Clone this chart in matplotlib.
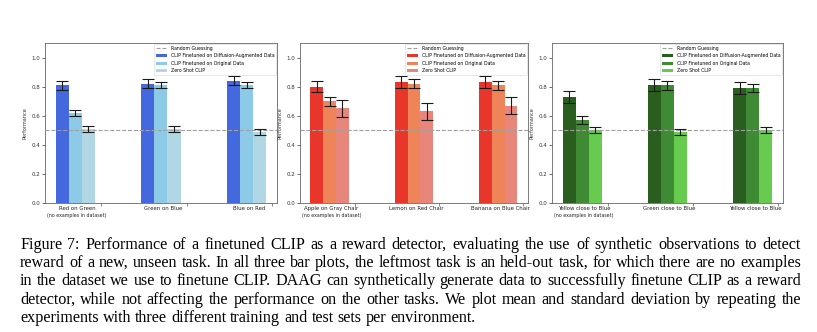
import numpy as np
import matplotlib
matplotlib.use("Agg")
import matplotlib.pyplot as plt
from matplotlib.transforms import blended_transform_factory

# ---------------- data ----------------
series_labels = ["CLIP Finetuned on Diffusion-Augmented Data",
                 "CLIP Finetuned on Original Data",
                 "Zero Shot CLIP"]
guess_label = "Random Guessing"
guess_level = 0.5
held_out_note = "(no examples in dataset)"

tasks_blue = ["Red on Green", "Green on Blue", "Blue on Red"]
blue_diffusion_mean = [0.81, 0.82, 0.84]
blue_diffusion_std = [0.03, 0.03, 0.03]
blue_original_mean = [0.62, 0.81, 0.81]
blue_original_std = [0.02, 0.02, 0.02]
blue_zeroshot_mean = [0.51, 0.51, 0.49]
blue_zeroshot_std = [0.02, 0.02, 0.02]

tasks_red = ["Apple on Gray Chair", "Lemon on Red Chair", "Banana on Blue Chair"]
red_diffusion_mean = [0.80, 0.83, 0.83]
red_diffusion_std = [0.04, 0.04, 0.04]
red_original_mean = [0.70, 0.82, 0.81]
red_original_std = [0.03, 0.03, 0.03]
red_zeroshot_mean = [0.65, 0.63, 0.67]
red_zeroshot_std = [0.06, 0.06, 0.06]

tasks_green = ["Yellow close to Blue", "Green close to Blue", "Yellow close to Blue"]
green_diffusion_mean = [0.73, 0.81, 0.79]
green_diffusion_std = [0.04, 0.04, 0.04]
green_original_mean = [0.57, 0.81, 0.79]
green_original_std = [0.03, 0.03, 0.03]
green_zeroshot_mean = [0.50, 0.49, 0.50]
green_zeroshot_std = [0.02, 0.02, 0.02]

yticks = [0.0, 0.2, 0.4, 0.6, 0.8, 1.0]

caption_lines = [
    "Figure 7: Performance of a finetuned CLIP as a reward detector, evaluating the use of synthetic observations to detect",
    "reward of a new, unseen task. In all three bar plots, the leftmost task is an held-out task, for which there are no examples",
    "in the dataset we use to finetune CLIP. DAAG can synthetically generate data to successfully finetune CLIP as a reward",
    "detector, while not affecting the performance on the other tasks. We plot mean and standard deviation by repeating the",
    "experiments with three different training and test sets per environment.",
]

# ---------------- style ----------------
blue_colors = ["#4468DD", "#8DCAE8", "#B0D7E3"]
red_colors = ["#E8372A", "#EE8458", "#E8867B"]
green_colors = ["#2A5E1F", "#3F8B34", "#66CB4F"]

W, H = 817, 332
fig = plt.figure(figsize=(W / 100, H / 100), dpi=100)

def px_axes(left, right, top, bottom):
    return fig.add_axes([left / W, 1 - bottom / H, (right - left) / W, (bottom - top) / H])

axes_px = [(45, 277), (300, 528), (552, 783)]
top_px, bottom_px = 43, 203

panels = [
    (tasks_blue,
     [blue_diffusion_mean, blue_original_mean, blue_zeroshot_mean],
     [blue_diffusion_std, blue_original_std, blue_zeroshot_std], blue_colors),
    (tasks_red,
     [red_diffusion_mean, red_original_mean, red_zeroshot_mean],
     [red_diffusion_std, red_original_std, red_zeroshot_std], red_colors),
    (tasks_green,
     [green_diffusion_mean, green_original_mean, green_zeroshot_mean],
     [green_diffusion_std, green_original_std, green_zeroshot_std], green_colors),
]

bar_w = 0.152
for (l, r), (tasks, means, stds, colors) in zip(axes_px, panels):
    ax = px_axes(l, r, top_px, bottom_px)
    x = np.arange(len(tasks))
    handles = []
    for k, (m, s, c, lab) in enumerate(zip(means, stds, colors, series_labels)):
        b = ax.bar(x + k * bar_w, m, bar_w, yerr=s, color=c, label=lab,
                   capsize=4.3, zorder=2,
                   error_kw=dict(ecolor="#1a1a1a", elinewidth=0.8, capthick=0.8, zorder=4))
        handles.append(b)
    guess = ax.axhline(guess_level, color="#a0a0a0", ls="--", lw=0.8, zorder=3,
                       label=guess_label)
    ax.set_ylim(0, 1.1)
    ax.set_xlim(-0.2, 2.505)
    ax.set_yticks(yticks)
    ax.set_yticklabels([f"{v:.1f}" for v in yticks])
    ax.tick_params(axis="y", labelsize=4, length=2, width=0.5, pad=1.5, colors="#333333")
    ax.set_xticks(x + 0.45)
    ax.set_xticklabels([])
    ax.tick_params(axis="x", which="major", length=2, width=0.5, color="#555555")
    ax.set_xticks(x + 0.175, labels=tasks, minor=True)
    ax.tick_params(axis="x", which="minor", length=0, labelsize=3.9, pad=2.5,
                   labelcolor="#222222")
    trans = blended_transform_factory(ax.transData, ax.transAxes)
    ax.text(x[0] + 0.175, -0.078, held_out_note, transform=trans, ha="center",
            va="center", fontsize=3.4, color="#222222")
    ax.set_ylabel("Performance", fontsize=3.6, labelpad=3, color="#333333")
    for sp in ax.spines.values():
        sp.set_linewidth(0.6)
        sp.set_color("#666666")
    leg = ax.legend([guess] + handles, [guess_label] + series_labels,
                    loc="upper right", fontsize=3.3, frameon=True,
                    borderaxespad=0.2, handlelength=2.4, labelspacing=0.55)
    leg.get_frame().set_linewidth(0.4)

# ---------------- justified caption ----------------
renderer = fig.canvas.get_renderer()
cap_left, cap_right = 20, 801
baseline0, line_gap = 248.7, 18.3
cap_font = dict(family="Liberation Serif", fontsize=11.6, color="black")
sp = fig.text(0, 0, "a a", **cap_font)
sp2 = fig.text(0, 0, "aa", **cap_font)
space_w = sp.get_window_extent(renderer).width - sp2.get_window_extent(renderer).width
sp.remove(); sp2.remove()
for i, line in enumerate(caption_lines):
    yb = 1 - (baseline0 + i * line_gap) / H
    words = line.split(" ")
    texts = [fig.text(0, yb, w_, va="baseline", ha="left", **cap_font) for w_ in words]
    widths = [t.get_window_extent(renderer).width for t in texts]
    if i < len(caption_lines) - 1:
        gap = (cap_right - cap_left - sum(widths)) / (len(words) - 1)
    else:
        gap = space_w
    xp = cap_left
    for t, wd in zip(texts, widths):
        t.set_x(xp / W)
        xp += wd + gap

fig.savefig("out.png", dpi=100)
